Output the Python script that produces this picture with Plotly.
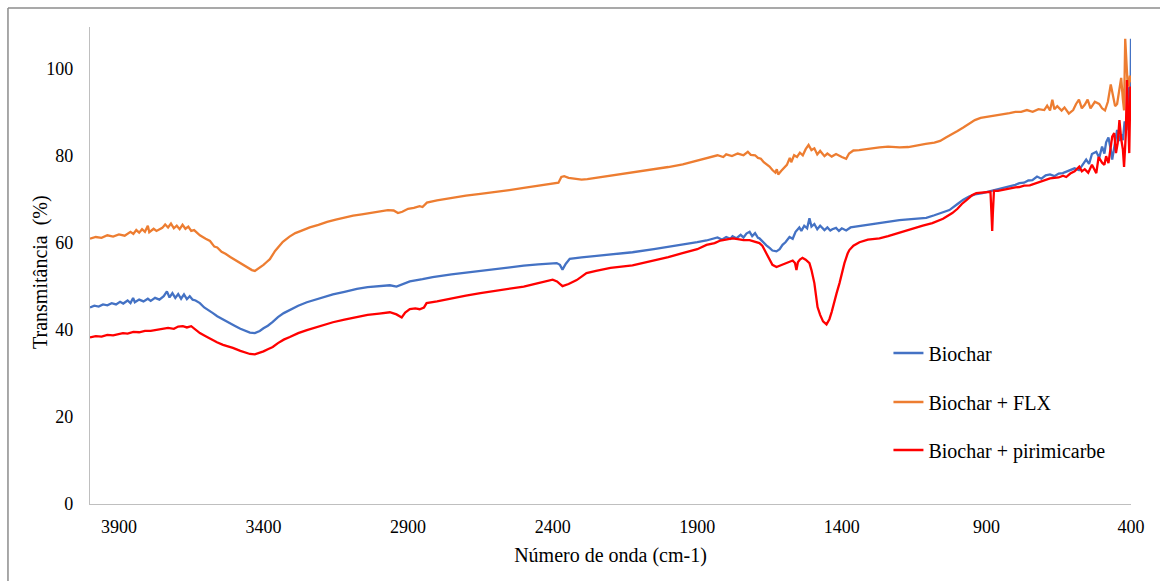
import plotly.graph_objects as go

# Wavenumber (cm-1), transmittance (%) pairs
biochar = [
    (4000, 45.2), (3985, 45.6), (3970, 45.4), (3955, 45.9), (3940, 45.7), (3925, 46.2), (3910, 45.9),
    (3896, 46.5), (3885, 46.1), (3870, 46.8), (3860, 46.2), (3851, 47.4), (3845, 46.4), (3830, 47.0),
    (3815, 46.6), (3800, 47.2), (3790, 46.7), (3775, 47.4), (3760, 47.0), (3745, 47.8), (3734, 48.9),
    (3725, 47.5), (3715, 48.5), (3705, 47.4), (3695, 48.3), (3685, 47.2), (3675, 48.2), (3665, 47.1),
    (3655, 47.8), (3645, 47.0), (3635, 46.8), (3620, 46.2), (3605, 45.2), (3590, 44.6), (3575, 43.9),
    (3560, 43.2), (3545, 42.6), (3530, 42.1), (3516, 41.6), (3500, 41.0), (3480, 40.3), (3460, 39.7),
    (3447, 39.4), (3430, 39.3), (3413, 39.8), (3400, 40.4), (3385, 41.0), (3368, 41.9), (3350, 43.0),
    (3330, 43.9), (3309, 44.6), (3280, 45.6), (3250, 46.4), (3220, 47.0), (3195, 47.6), (3160, 48.2),
    (3120, 48.8), (3077, 49.5), (3040, 49.9), (3000, 50.1), (2963, 50.3), (2940, 50.0), (2920, 50.5),
    (2894, 51.2), (2850, 51.7), (2815, 52.2), (2750, 52.8), (2700, 53.2), (2650, 53.7), (2583, 54.3),
    (2500, 54.8), (2450, 55.1), (2400, 55.3), (2386, 55.4), (2375, 55.0), (2366, 53.9), (2355, 55.2),
    (2341, 56.4), (2300, 56.7), (2250, 57.0), (2200, 57.4), (2124, 57.9), (2050, 58.6), (2000, 59.1),
    (1950, 59.7), (1900, 60.2), (1868, 60.6), (1850, 60.9), (1830, 61.3), (1815, 60.8), (1800, 61.4),
    (1785, 61.0), (1778, 61.6), (1765, 61.1), (1750, 61.9), (1740, 61.3), (1730, 62.2), (1719, 62.6),
    (1710, 61.6), (1700, 62.3), (1690, 61.2), (1685, 61.1), (1675, 60.4), (1661, 59.5), (1650, 58.9),
    (1640, 58.3), (1626, 58.1), (1615, 58.6), (1605, 59.6), (1595, 60.2), (1581, 61.4), (1570, 61.0),
    (1560, 62.6), (1547, 63.6), (1540, 62.8), (1530, 64.0), (1520, 63.4), (1512, 65.7), (1505, 63.8),
    (1495, 64.4), (1485, 63.2), (1475, 64.0), (1460, 63.0), (1450, 63.6), (1440, 62.9), (1433, 63.2),
    (1420, 63.5), (1410, 62.8), (1400, 63.4), (1385, 62.9), (1370, 63.6), (1350, 63.8), (1315, 64.1),
    (1280, 64.5), (1240, 65.0), (1201, 65.3), (1160, 65.5), (1130, 65.7), (1108, 65.8), (1080, 66.4),
    (1050, 67.0), (1028, 67.6), (1000, 69.0), (980, 70.0), (960, 70.7), (940, 71.2), (914, 71.5),
    (890, 71.9), (870, 72.1), (856, 72.3), (840, 72.6), (820, 73.0), (800, 73.4), (786, 73.8),
    (770, 73.9), (755, 74.4), (741, 74.5), (725, 75.3), (710, 74.8), (695, 75.6), (680, 75.8),
    (665, 75.4), (650, 76.0), (636, 76.1), (624, 76.4), (610, 76.8), (595, 77.2), (580, 76.8),
    (565, 78.4), (555, 79.2), (545, 78.2), (535, 80.5), (520, 81.0), (510, 79.6), (500, 82.2),
    (492, 80.6), (486, 83.2), (478, 84.3), (470, 81.5), (465, 79.2), (458, 82.0), (452, 84.8),
    (448, 86.0), (440, 83.5), (434, 85.0), (428, 83.7), (422, 88.0), (416, 86.0), (410, 92.0),
    (406, 95.9), (402, 90.0), (400, 107.0),
]

biochar_flx = [
    (4000, 61.0), (3980, 61.4), (3960, 61.2), (3940, 61.8), (3920, 61.5), (3900, 62.0), (3880, 61.7),
    (3860, 62.6), (3850, 62.1), (3840, 63.0), (3830, 62.4), (3820, 63.2), (3810, 62.6), (3800, 64.0),
    (3795, 62.5), (3780, 63.3), (3770, 62.8), (3750, 63.5), (3740, 64.3), (3730, 63.6), (3720, 64.5),
    (3710, 63.4), (3700, 64.0), (3690, 63.2), (3680, 64.2), (3670, 63.3), (3660, 63.8), (3650, 62.8),
    (3640, 63.0), (3620, 61.8), (3600, 61.0), (3585, 60.5), (3570, 59.2), (3560, 59.0), (3545, 58.0),
    (3530, 57.5), (3515, 56.8), (3500, 56.2), (3480, 55.4), (3460, 54.6), (3440, 53.8), (3430, 53.6),
    (3420, 54.0), (3400, 55.0), (3390, 55.6), (3378, 56.3), (3360, 58.2), (3345, 59.5), (3333, 60.3),
    (3310, 61.5), (3290, 62.3), (3270, 62.8), (3240, 63.6), (3210, 64.2), (3180, 64.9), (3150, 65.4),
    (3120, 65.9), (3090, 66.3), (3060, 66.6), (3030, 66.9), (3000, 67.3), (2970, 67.6), (2950, 67.5),
    (2935, 66.9), (2920, 67.2), (2900, 67.9), (2880, 68.1), (2860, 68.5), (2850, 68.3), (2835, 69.3),
    (2800, 69.8), (2750, 70.4), (2700, 70.9), (2650, 71.3), (2600, 71.7), (2550, 72.2), (2500, 72.7),
    (2450, 73.2), (2400, 73.6), (2380, 73.9), (2370, 75.2), (2360, 75.4), (2345, 75.0), (2320, 74.7),
    (2300, 74.6), (2280, 74.7), (2250, 75.0), (2200, 75.5), (2150, 75.9), (2100, 76.4), (2050, 77.0),
    (2000, 77.5), (1950, 78.1), (1900, 79.0), (1870, 79.6), (1850, 79.9), (1830, 80.2), (1810, 79.8),
    (1800, 80.4), (1780, 80.0), (1760, 80.6), (1740, 80.2), (1725, 81.0), (1715, 80.3), (1700, 80.2),
    (1690, 79.6), (1680, 79.4), (1670, 78.6), (1660, 78.2), (1650, 77.6), (1640, 76.8), (1630, 76.2),
    (1625, 77.0), (1620, 75.8), (1610, 76.6), (1600, 77.4), (1590, 78.0), (1580, 79.6), (1575, 78.6),
    (1565, 80.2), (1555, 79.8), (1545, 80.8), (1535, 80.2), (1525, 81.6), (1515, 82.6), (1505, 81.4),
    (1495, 81.8), (1485, 80.4), (1475, 81.2), (1460, 80.0), (1450, 80.6), (1435, 79.9), (1420, 80.5),
    (1400, 79.8), (1385, 79.4), (1375, 80.6), (1360, 81.3), (1340, 81.4), (1300, 81.8), (1270, 82.0),
    (1240, 82.2), (1200, 82.0), (1170, 82.1), (1140, 82.5), (1110, 82.8), (1080, 83.1), (1060, 83.5),
    (1040, 84.3), (1020, 85.0), (1000, 85.8), (980, 86.6), (960, 87.5), (940, 88.3), (920, 88.8),
    (900, 89.0), (880, 89.3), (860, 89.5), (840, 89.7), (820, 89.9), (800, 90.2), (780, 90.2),
    (760, 90.6), (740, 90.2), (720, 90.8), (700, 90.6), (690, 91.6), (680, 90.5), (672, 93.0),
    (665, 90.8), (655, 91.5), (640, 90.5), (630, 91.2), (615, 89.8), (600, 90.6), (590, 92.0),
    (580, 93.0), (570, 91.0), (560, 91.8), (550, 93.0), (540, 91.0), (525, 92.5), (510, 92.0),
    (500, 91.0), (490, 90.5), (480, 92.5), (470, 96.5), (462, 94.0), (455, 91.5), (448, 92.0),
    (440, 96.0), (434, 98.0), (428, 93.0), (424, 90.5), (420, 107.0), (416, 100.0), (412, 97.0),
    (408, 96.0), (404, 98.5), (400, 97.0),
]

biochar_pirimicarbe = [
    (4000, 38.3), (3980, 38.6), (3960, 38.5), (3940, 38.9), (3920, 38.8), (3900, 39.2), (3886, 39.3),
    (3870, 39.2), (3850, 39.6), (3830, 39.5), (3810, 39.8), (3790, 39.8), (3768, 40.0), (3750, 40.3),
    (3730, 40.5), (3710, 40.3), (3695, 40.8), (3679, 40.9), (3665, 40.6), (3650, 40.9), (3640, 40.4),
    (3630, 39.8), (3620, 39.3), (3600, 38.6), (3580, 37.8), (3561, 37.2), (3540, 36.6), (3520, 36.2),
    (3506, 35.9), (3480, 35.2), (3460, 34.7), (3447, 34.5), (3430, 34.4), (3413, 34.7), (3400, 35.1),
    (3385, 35.6), (3368, 36.1), (3350, 37.0), (3330, 37.8), (3309, 38.4), (3280, 39.3), (3250, 40.0),
    (3220, 40.6), (3195, 41.1), (3160, 41.8), (3120, 42.4), (3077, 43.0), (3040, 43.5), (3000, 43.8),
    (2963, 44.1), (2940, 43.6), (2922, 42.9), (2910, 44.0), (2894, 44.8), (2875, 45.0), (2860, 44.8),
    (2845, 45.2), (2836, 46.2), (2800, 46.6), (2750, 47.3), (2700, 47.9), (2650, 48.5), (2583, 49.2),
    (2500, 50.0), (2450, 50.8), (2410, 51.4), (2400, 51.6), (2385, 51.2), (2366, 50.1), (2345, 50.6),
    (2317, 51.5), (2300, 52.3), (2283, 53.1), (2250, 53.6), (2200, 54.3), (2124, 54.9), (2050, 56.0),
    (2000, 56.8), (1951, 57.7), (1900, 58.6), (1868, 59.6), (1840, 60.0), (1820, 60.6), (1800, 60.9),
    (1778, 61.1), (1760, 60.9), (1740, 60.7), (1719, 60.7), (1700, 60.4), (1685, 60.0), (1675, 59.4),
    (1661, 57.7), (1650, 56.4), (1640, 55.0), (1626, 54.5), (1615, 54.8), (1600, 55.2), (1592, 55.4),
    (1580, 55.8), (1570, 56.0), (1562, 55.4), (1557, 53.8), (1552, 55.6), (1545, 56.2), (1536, 56.6),
    (1525, 56.2), (1512, 55.4), (1505, 53.8), (1495, 50.8), (1490, 48.0), (1484, 45.3), (1475, 43.5),
    (1465, 42.0), (1453, 41.3), (1443, 42.5), (1435, 44.2), (1426, 46.2), (1418, 48.5), (1408, 50.8),
    (1400, 53.2), (1391, 55.4), (1380, 57.6), (1374, 58.4), (1360, 59.4), (1339, 60.2), (1310, 60.8),
    (1270, 61.1), (1240, 61.6), (1201, 62.3), (1160, 63.2), (1120, 64.0), (1087, 64.6), (1050, 65.6),
    (1018, 66.9), (1000, 67.9), (985, 69.0), (970, 69.8), (950, 71.0), (935, 71.5), (910, 71.6),
    (895, 71.8), (886, 71.8), (882, 66.0), (880, 62.8), (878, 66.5), (874, 72.0), (860, 72.0),
    (840, 72.3), (820, 72.6), (800, 72.8), (786, 72.9), (770, 73.2), (750, 73.3), (741, 73.5),
    (725, 74.0), (710, 74.3), (695, 74.5), (680, 74.9), (665, 75.0), (650, 75.1), (635, 75.5),
    (624, 75.2), (610, 76.0), (595, 76.5), (579, 77.6), (570, 76.5), (560, 77.0), (548, 76.2),
    (535, 78.0), (520, 76.1), (512, 79.8), (500, 78.5), (492, 78.0), (486, 80.0), (478, 78.4),
    (470, 82.0), (465, 84.5), (458, 85.3), (452, 80.7), (446, 83.0), (440, 88.3), (434, 84.0),
    (428, 81.5), (424, 77.5), (418, 85.0), (414, 97.5), (410, 88.0), (406, 80.7), (402, 96.0),
    (400, 95.0),
]

series_names = ["Biochar", "Biochar + FLX", "Biochar + pirimicarbe"]
series_colors = ["#4472C4", "#ED7D31", "#FF0000"]
x_ticks = [3900, 3400, 2900, 2400, 1900, 1400, 900, 400]
y_ticks = [0, 20, 40, 60, 80, 100]

FONT = "Liberation Serif"
fig = go.Figure()
legend_ids = ["legend", "legend2", "legend3"]
for data, name, color, lg in zip([biochar, biochar_flx, biochar_pirimicarbe],
                                 series_names, series_colors, legend_ids):
    xs = [p[0] for p in data]
    ys = [p[1] for p in data]
    fig.add_trace(go.Scatter(x=xs, y=ys, mode="lines", name=name,
                             line=dict(color=color, width=2.3), legend=lg))

leg_common = dict(font=dict(family=FONT, size=20, color="#000000"),
                  bgcolor="rgba(0,0,0,0)", xanchor="left", yanchor="middle", x=0.767)

fig.update_layout(
    width=1160, height=581,
    margin=dict(l=90, r=29, t=27, b=77),
    paper_bgcolor="white", plot_bgcolor="white",
    font=dict(family=FONT, color="#000000"),
    showlegend=True,
    legend=dict(**leg_common, y=0.3166),
    legend2=dict(**leg_common, y=0.2138),
    legend3=dict(**leg_common, y=0.1132),
    xaxis=dict(range=[4000, 400], autorange=False, tickvals=x_ticks,
               ticktext=[str(v) for v in x_ticks], showgrid=False, zeroline=False,
               showline=True, linecolor="#BFBFBF", linewidth=1.3, ticks="",
               tickfont=dict(family=FONT, size=18, color="#000000"), ticklabelstandoff=6,
               title=dict(text="Número de onda (cm-1)", standoff=12,
                          font=dict(family=FONT, size=20, color="#000000"))),
    yaxis=dict(range=[0, 109.7], autorange=False, tickvals=y_ticks, showgrid=False,
               zeroline=False, showline=True, linecolor="#BFBFBF", linewidth=1.3, ticks="",
               tickfont=dict(family=FONT, size=18, color="#000000"), ticklabelstandoff=12),
    annotations=[
        dict(text="Transmitância  (%)", xref="paper", yref="paper",
             x=(40 - 90) / 1041, y=(504 - 272) / 477, textangle=-90,
             xanchor="center", yanchor="middle", showarrow=False,
             font=dict(family=FONT, size=20, color="#000000")),
    ],
    shapes=[
        dict(type="line", xref="paper", yref="paper", x0=-0.0788, x1=1.05, y0=1.0398, y1=1.0398,
             line=dict(color="#8C8C8C", width=1.5)),
        dict(type="line", xref="paper", yref="paper", x0=-0.0788, x1=-0.0788, y0=1.0398, y1=-0.2,
             line=dict(color="#8C8C8C", width=1.5)),
    ],
)

fig.write_html("out.html")
